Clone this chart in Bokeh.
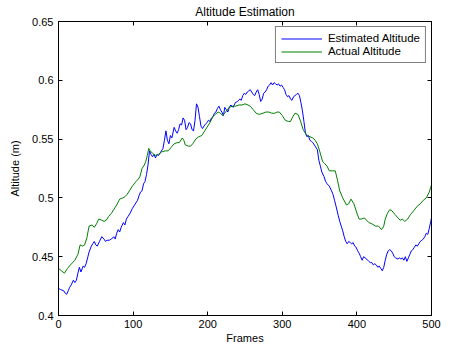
from bokeh.plotting import figure
from bokeh.models import LinearAxis, FixedTicker, Range1d, Legend, LegendItem
from bokeh.embed import file_html
from bokeh.resources import INLINE

actual_frames = [0, 4, 8, 12, 16, 22, 26, 29, 32, 35, 38, 41, 45, 48, 51, 54, 58, 61, 64, 67, 71, 74, 78, 82, 86, 89, 92, 95, 99, 104, 107, 109, 112, 115, 117, 119, 121, 123, 126, 130, 134, 138, 143, 147, 151, 155, 159, 162, 166, 168, 170, 174, 177, 180, 184, 188, 192, 196, 199, 203, 207, 210, 214, 217, 220, 224, 229, 233, 237, 242, 246, 250, 254, 257, 261, 265, 269, 274, 278, 282, 286, 290, 293, 296, 300, 304, 308, 311, 314, 317, 321, 324, 328, 331, 334, 337, 341, 344, 347, 350, 354, 357, 360, 363, 367, 371, 374, 377, 381, 386, 389, 392, 396, 400, 403, 406, 410, 413, 416, 420, 425, 429, 433, 436, 438, 441, 444, 447, 451, 455, 458, 461, 464, 468, 472, 476, 481, 485, 489, 493, 497, 500]
actual_alt = [0.440, 0.438, 0.436, 0.440, 0.443, 0.447, 0.452, 0.460, 0.459, 0.460, 0.466, 0.476, 0.477, 0.475, 0.478, 0.482, 0.481, 0.480, 0.481, 0.484, 0.487, 0.490, 0.494, 0.499, 0.500, 0.501, 0.503, 0.506, 0.510, 0.514, 0.516, 0.518, 0.525, 0.528, 0.531, 0.536, 0.542, 0.540, 0.538, 0.536, 0.537, 0.539, 0.540, 0.540, 0.543, 0.546, 0.547, 0.547, 0.551, 0.549, 0.545, 0.544, 0.544, 0.546, 0.550, 0.552, 0.553, 0.557, 0.560, 0.564, 0.569, 0.571, 0.573, 0.572, 0.570, 0.573, 0.577, 0.578, 0.578, 0.579, 0.579, 0.580, 0.579, 0.578, 0.575, 0.572, 0.571, 0.572, 0.573, 0.573, 0.572, 0.572, 0.573, 0.573, 0.570, 0.566, 0.565, 0.565, 0.569, 0.572, 0.571, 0.566, 0.558, 0.555, 0.553, 0.552, 0.551, 0.549, 0.546, 0.540, 0.531, 0.529, 0.527, 0.523, 0.523, 0.523, 0.515, 0.506, 0.500, 0.494, 0.495, 0.499, 0.495, 0.487, 0.482, 0.482, 0.483, 0.481, 0.479, 0.478, 0.476, 0.476, 0.473, 0.476, 0.482, 0.487, 0.490, 0.489, 0.486, 0.483, 0.481, 0.482, 0.480, 0.482, 0.486, 0.489, 0.493, 0.495, 0.498, 0.500, 0.505, 0.511]

est_frames = [0, 3, 7, 9, 11, 13, 15, 17, 20, 22, 24, 26, 28, 30, 33, 35, 37, 39, 41, 44, 46, 48, 50, 52, 55, 58, 61, 63, 65, 68, 71, 74, 76, 78, 80, 82, 84, 87, 89, 91, 93, 96, 99, 102, 106, 108, 110, 112, 114, 116, 118, 120, 122, 124, 126, 128, 130, 132, 134, 137, 140, 142, 144, 146, 148, 150, 152, 155, 157, 159, 161, 163, 165, 167, 169, 171, 173, 175, 177, 179, 181, 183, 185, 187, 189, 191, 193, 196, 199, 201, 203, 205, 207, 209, 211, 213, 215, 217, 219, 221, 223, 225, 227, 229, 231, 234, 237, 240, 243, 245, 247, 249, 251, 253, 255, 257, 259, 261, 263, 265, 267, 269, 271, 273, 275, 277, 279, 281, 283, 285, 287, 289, 291, 293, 295, 297, 299, 301, 303, 305, 307, 309, 311, 313, 315, 317, 319, 321, 323, 325, 327, 329, 331, 333, 335, 337, 339, 341, 344, 347, 349, 351, 353, 356, 358, 360, 363, 366, 368, 370, 372, 375, 377, 379, 381, 383, 385, 387, 389, 391, 393, 395, 397, 399, 401, 403, 405, 407, 409, 411, 413, 416, 418, 420, 422, 424, 426, 428, 430, 432, 434, 436, 438, 440, 442, 444, 446, 448, 450, 452, 455, 457, 459, 461, 463, 465, 467, 469, 471, 473, 475, 477, 479, 481, 483, 485, 487, 489, 491, 493, 495, 497, 499, 500]
est_alt = [0.423, 0.422, 0.421, 0.419, 0.418, 0.421, 0.424, 0.426, 0.430, 0.428, 0.430, 0.436, 0.441, 0.437, 0.442, 0.441, 0.444, 0.449, 0.454, 0.459, 0.461, 0.463, 0.460, 0.459, 0.463, 0.467, 0.465, 0.463, 0.464, 0.464, 0.465, 0.467, 0.465, 0.470, 0.473, 0.471, 0.475, 0.479, 0.477, 0.482, 0.484, 0.487, 0.491, 0.494, 0.498, 0.502, 0.505, 0.506, 0.512, 0.514, 0.520, 0.528, 0.540, 0.537, 0.535, 0.537, 0.534, 0.537, 0.536, 0.539, 0.542, 0.549, 0.557, 0.549, 0.546, 0.553, 0.551, 0.560, 0.557, 0.555, 0.558, 0.563, 0.562, 0.568, 0.566, 0.558, 0.560, 0.564, 0.563, 0.558, 0.557, 0.566, 0.580, 0.577, 0.569, 0.561, 0.559, 0.562, 0.564, 0.566, 0.565, 0.568, 0.569, 0.572, 0.573, 0.576, 0.578, 0.575, 0.573, 0.570, 0.577, 0.575, 0.573, 0.577, 0.579, 0.577, 0.581, 0.582, 0.584, 0.583, 0.587, 0.589, 0.588, 0.590, 0.591, 0.592, 0.590, 0.588, 0.587, 0.590, 0.592, 0.588, 0.582, 0.584, 0.589, 0.590, 0.592, 0.595, 0.596, 0.598, 0.596, 0.598, 0.597, 0.596, 0.597, 0.595, 0.596, 0.594, 0.592, 0.588, 0.586, 0.587, 0.584, 0.583, 0.586, 0.587, 0.588, 0.589, 0.587, 0.581, 0.574, 0.565, 0.555, 0.552, 0.553, 0.549, 0.548, 0.547, 0.544, 0.541, 0.532, 0.527, 0.522, 0.518, 0.514, 0.512, 0.510, 0.506, 0.503, 0.498, 0.493, 0.485, 0.480, 0.476, 0.472, 0.467, 0.463, 0.461, 0.463, 0.462, 0.461, 0.462, 0.459, 0.458, 0.455, 0.453, 0.450, 0.447, 0.450, 0.449, 0.448, 0.446, 0.445, 0.445, 0.443, 0.444, 0.443, 0.441, 0.442, 0.440, 0.438, 0.441, 0.447, 0.452, 0.455, 0.456, 0.455, 0.453, 0.450, 0.449, 0.448, 0.449, 0.448, 0.449, 0.447, 0.450, 0.446, 0.449, 0.452, 0.455, 0.456, 0.458, 0.460, 0.459, 0.461, 0.463, 0.464, 0.465, 0.467, 0.470, 0.469, 0.474, 0.480, 0.483]

x_ticks = [0, 100, 200, 300, 400, 500]
y_ticks = [0.4, 0.45, 0.5, 0.55, 0.6, 0.65]
y_tick_labels = ["0.4", "0.45", "0.5", "0.55", "0.6", "0.65"]

FONT = "Liberation Sans"

p = figure(width=441, height=346, output_backend="svg", toolbar_location=None,
           x_range=Range1d(0, 500), y_range=Range1d(0.4, 0.65),
           min_border_left=58, min_border_right=10, min_border_top=21, min_border_bottom=26)
p.title.text = "Altitude Estimation"
p.title.align = "center"
p.title.text_font = FONT
p.title.text_font_size = "12px"
p.title.text_font_style = "normal"
p.title.text_color = "black"
p.title.standoff = 5
p.grid.visible = False
p.outline_line_color = "black"
p.outline_line_width = 1
p.background_fill_color = "white"
p.border_fill_color = "white"

def style_axis(ax, ticks, show_labels):
    ax.ticker = FixedTicker(ticks=ticks)
    ax.major_tick_in = 4
    ax.major_tick_out = 0
    ax.minor_tick_line_color = None
    ax.axis_line_color = "black"
    ax.major_tick_line_color = "black"
    ax.major_label_text_font = FONT
    ax.major_label_text_font_size = "11px"
    ax.major_label_text_color = "black"
    ax.axis_label_text_font = FONT
    ax.axis_label_text_font_size = "11px"
    ax.axis_label_text_font_style = "normal"
    ax.axis_label_text_color = "black"
    if not show_labels:
        ax.major_label_text_color = None
        ax.major_label_text_font_size = "0px"
        ax.major_label_standoff = 0

style_axis(p.xaxis[0], x_ticks, True)
style_axis(p.yaxis[0], y_ticks, True)
p.xaxis[0].axis_label = "Frames"
p.xaxis[0].axis_label_standoff = 1
p.xaxis[0].major_label_standoff = 4
p.yaxis[0].axis_label = "Altitude (m)"
p.yaxis[0].axis_label_standoff = 8
p.yaxis[0].major_label_standoff = 5
p.yaxis[0].major_label_overrides = {t: l for t, l in zip(y_ticks, y_tick_labels)}

top_ax = LinearAxis()
style_axis(top_ax, x_ticks, False)
p.add_layout(top_ax, "above")
right_ax = LinearAxis()
style_axis(right_ax, y_ticks, False)
p.add_layout(right_ax, "right")

r_est = p.line(est_frames, est_alt, line_color="#0000ff", line_width=1)
r_act = p.line(actual_frames, actual_alt, line_color="#008000", line_width=1)

legend = Legend(items=[LegendItem(label="Estimated Altitude", renderers=[r_est]),
                       LegendItem(label="Actual Altitude", renderers=[r_act])],
                location="top_right")
legend.border_line_color = "black"
legend.border_line_width = 1
legend.background_fill_alpha = 1
legend.label_text_font = FONT
legend.label_text_font_size = "11.5px"
legend.label_text_color = "black"
legend.glyph_width = 41
legend.glyph_height = 11
legend.label_height = 11
legend.spacing = 1
legend.padding = 5
legend.margin = 5
legend.label_standoff = 6
p.add_layout(legend, "center")

open("out.html", "w").write(file_html(p, INLINE))
